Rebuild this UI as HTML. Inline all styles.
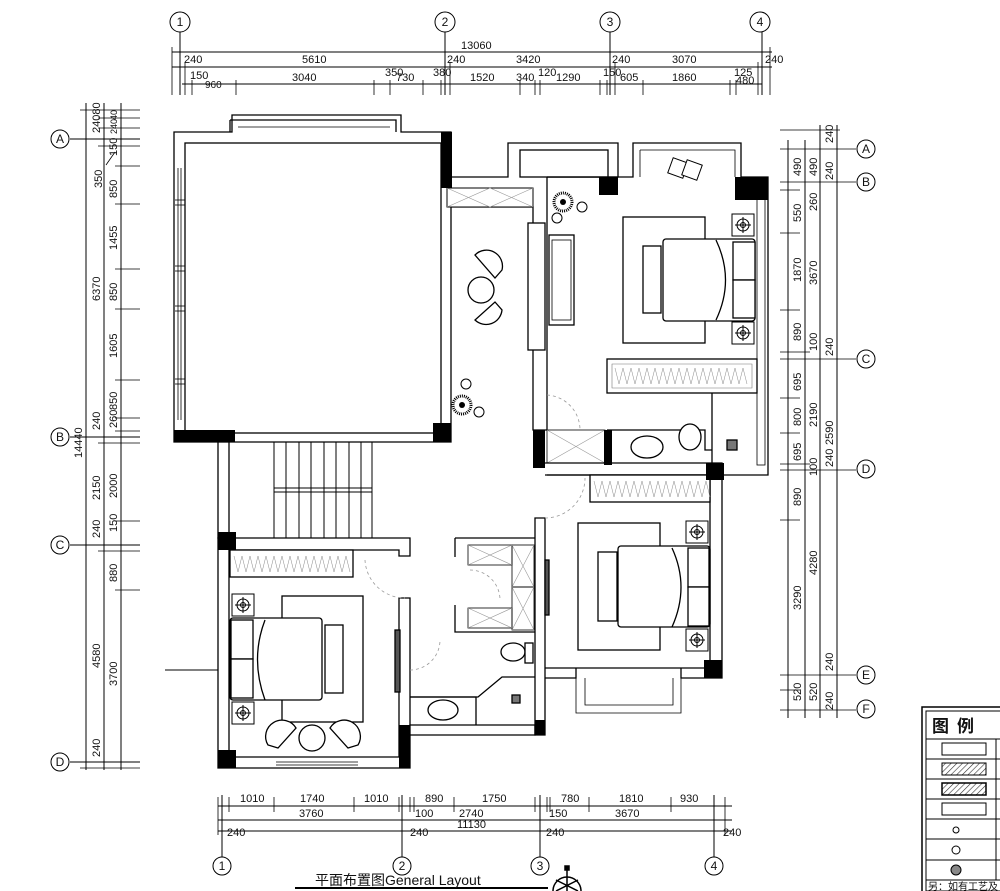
<!DOCTYPE html>
<html><head><meta charset="utf-8"><style>
html,body{margin:0;padding:0;background:#fff;}
svg{display:block;}
text{font-family:"Liberation Sans","Noto Sans CJK SC",sans-serif;fill:#111;}
.d{font-size:11px;}
</style></head><body>
<svg width="1000" height="891" viewBox="0 0 1000 891" xmlns="http://www.w3.org/2000/svg">
<defs>
<pattern id="h" width="4" height="4" patternUnits="userSpaceOnUse" patternTransform="rotate(45)"><line x1="0" y1="0" x2="0" y2="4" stroke="#333" stroke-width="1.2"/></pattern>
<g id="ns"><rect x="-11" y="-11" width="22" height="22" fill="#fff" stroke="#000"/><circle r="6" fill="none" stroke="#000"/><circle r="2.5" fill="none" stroke="#000"/><line x1="-8" y1="0" x2="8" y2="0" stroke="#000"/><line x1="0" y1="-8" x2="0" y2="8" stroke="#000"/></g>
<g id="pl"><circle r="9" fill="none" stroke="#000" stroke-dasharray="1 1" stroke-width="3"/><circle r="3" fill="#000"/></g>
</defs>
<g stroke="#000" stroke-width="1" fill="none">
<!-- TOP DIMENSIONS -->
<line x1="172" y1="52" x2="772" y2="52"/>
<line x1="172" y1="67" x2="772" y2="67"/>
<line x1="182" y1="84" x2="762" y2="84"/>
<line x1="180" y1="32" x2="180" y2="95"/><line x1="445" y1="32" x2="445" y2="95"/><line x1="610" y1="32" x2="610" y2="95"/><line x1="762" y1="32" x2="762" y2="95"/>
<g stroke-width="0.8">
<line x1="172" y1="47" x2="172" y2="95"/><line x1="185" y1="62" x2="185" y2="95"/><line x1="192" y1="80" x2="192" y2="95"/><line x1="236" y1="80" x2="236" y2="95"/><line x1="374" y1="80" x2="374" y2="95"/><line x1="390" y1="80" x2="390" y2="95"/><line x1="423" y1="80" x2="423" y2="95"/><line x1="441" y1="80" x2="441" y2="95"/><line x1="450" y1="62" x2="450" y2="95"/><line x1="520" y1="80" x2="520" y2="95"/><line x1="535" y1="80" x2="535" y2="95"/><line x1="540" y1="80" x2="540" y2="95"/><line x1="600" y1="80" x2="600" y2="95"/><line x1="607" y1="80" x2="607" y2="95"/><line x1="615" y1="62" x2="615" y2="95"/><line x1="643" y1="80" x2="643" y2="95"/><line x1="730" y1="80" x2="730" y2="95"/><line x1="736" y1="80" x2="736" y2="95"/><line x1="758" y1="62" x2="758" y2="95"/><line x1="770" y1="47" x2="770" y2="95"/>
</g>
<circle cx="180" cy="22" r="10"/><circle cx="445" cy="22" r="10"/><circle cx="610" cy="22" r="10"/><circle cx="760" cy="22" r="10"/>
<!-- LEFT DIMENSIONS -->
<line x1="86" y1="103" x2="86" y2="770"/><line x1="104" y1="103" x2="104" y2="770"/><line x1="121" y1="103" x2="121" y2="770"/>
<line x1="70" y1="139" x2="140" y2="139"/><line x1="70" y1="437" x2="140" y2="437"/><line x1="70" y1="545" x2="140" y2="545"/><line x1="70" y1="762" x2="140" y2="762"/>
<g stroke-width="0.8">
<line x1="80" y1="110" x2="140" y2="110"/><line x1="98" y1="118" x2="140" y2="118"/><line x1="98" y1="128" x2="140" y2="128"/><line x1="98" y1="146" x2="140" y2="146"/><line x1="115" y1="166" x2="140" y2="166"/><line x1="115" y1="204" x2="140" y2="204"/><line x1="115" y1="269" x2="140" y2="269"/><line x1="115" y1="309" x2="140" y2="309"/><line x1="115" y1="380" x2="140" y2="380"/><line x1="115" y1="418" x2="140" y2="418"/><line x1="115" y1="431" x2="140" y2="431"/><line x1="98" y1="443" x2="140" y2="443"/><line x1="115" y1="521" x2="140" y2="521"/><line x1="98" y1="551" x2="140" y2="551"/><line x1="115" y1="590" x2="140" y2="590"/><line x1="80" y1="768" x2="140" y2="768"/>
<line x1="106" y1="165" x2="115" y2="152"/>
</g>
<circle cx="60" cy="139" r="9"/><circle cx="60" cy="437" r="9"/><circle cx="60" cy="545" r="9"/><circle cx="60" cy="762" r="9"/>
<!-- RIGHT DIMENSIONS -->
<line x1="788" y1="140" x2="788" y2="718"/><line x1="805" y1="140" x2="805" y2="718"/><line x1="820" y1="125" x2="820" y2="718"/><line x1="837" y1="125" x2="837" y2="718"/>
<g stroke-width="0.8">
<line x1="780" y1="149" x2="856" y2="149"/><line x1="780" y1="182" x2="856" y2="182"/><line x1="780" y1="359" x2="856" y2="359"/><line x1="780" y1="470" x2="856" y2="470"/><line x1="780" y1="675" x2="856" y2="675"/><line x1="780" y1="710" x2="856" y2="710"/>
<line x1="780" y1="190" x2="800" y2="190"/><line x1="780" y1="233" x2="800" y2="233"/><line x1="780" y1="310" x2="800" y2="310"/><line x1="780" y1="352" x2="810" y2="352"/><line x1="780" y1="398" x2="800" y2="398"/><line x1="780" y1="433" x2="800" y2="433"/><line x1="780" y1="464" x2="810" y2="464"/><line x1="780" y1="520" x2="800" y2="520"/><line x1="780" y1="690" x2="800" y2="690"/><line x1="780" y1="130" x2="840" y2="130"/>
</g>
<circle cx="866" cy="149" r="9"/><circle cx="866" cy="182" r="9"/><circle cx="866" cy="359" r="9"/><circle cx="866" cy="469" r="9"/><circle cx="866" cy="675" r="9"/><circle cx="866" cy="709" r="9"/>
<!-- BOTTOM DIMENSIONS -->
<line x1="218" y1="806" x2="732" y2="806"/><line x1="218" y1="820" x2="732" y2="820"/><line x1="218" y1="831" x2="732" y2="831"/>
<line x1="222" y1="795" x2="222" y2="857"/><line x1="402" y1="795" x2="402" y2="857"/><line x1="540" y1="795" x2="540" y2="857"/><line x1="714" y1="795" x2="714" y2="857"/>
<g stroke-width="0.8">
<line x1="229" y1="797" x2="229" y2="812"/><line x1="274" y1="797" x2="274" y2="812"/><line x1="354" y1="797" x2="354" y2="812"/><line x1="399" y1="797" x2="399" y2="812"/><line x1="410" y1="797" x2="410" y2="812"/><line x1="414" y1="797" x2="414" y2="812"/><line x1="454" y1="797" x2="454" y2="812"/><line x1="535" y1="797" x2="535" y2="812"/><line x1="547" y1="797" x2="547" y2="812"/><line x1="550" y1="797" x2="550" y2="812"/><line x1="589" y1="797" x2="589" y2="812"/><line x1="671" y1="797" x2="671" y2="812"/><line x1="714" y1="797" x2="714" y2="812"/><line x1="725" y1="797" x2="725" y2="835"/><line x1="218" y1="797" x2="218" y2="835"/>
</g>
<circle cx="222" cy="866" r="9"/><circle cx="402" cy="866" r="9"/><circle cx="540" cy="866" r="9"/><circle cx="714" cy="866" r="9"/>
<line x1="295" y1="888" x2="548" y2="888" stroke-width="2"/>
<line x1="165" y1="670" x2="218" y2="670"/>
</g>
<!-- dimension text -->
<g class="d">
<text x="461" y="49">13060</text>
<text x="184" y="63">240</text><text x="302" y="63">5610</text><text x="447" y="63">240</text><text x="516" y="63">3420</text><text x="612" y="63">240</text><text x="672" y="63">3070</text><text x="765" y="63">240</text>
<text x="190" y="79">150</text><text x="205" y="88" font-size="10">960</text><text x="292" y="81">3040</text><text x="385" y="76">350</text><text x="396" y="81">730</text><text x="433" y="76">380</text><text x="470" y="81">1520</text><text x="516" y="81">340</text><text x="538" y="76">120</text><text x="556" y="81">1290</text><text x="603" y="76">150</text><text x="620" y="81">605</text><text x="672" y="81">1860</text><text x="734" y="76">125</text><text x="736" y="84">480</text>
<text x="240" y="802">1010</text><text x="300" y="802">1740</text><text x="364" y="802">1010</text><text x="425" y="802">890</text><text x="482" y="802">1750</text><text x="561" y="802">780</text><text x="619" y="802">1810</text><text x="680" y="802">930</text>
<text x="299" y="817">3760</text><text x="415" y="817">100</text><text x="459" y="817">2740</text><text x="549" y="817">150</text><text x="615" y="817">3670</text>
<text x="457" y="828">11130</text><text x="227" y="836">240</text><text x="410" y="836">240</text><text x="546" y="836">240</text><text x="723" y="836">240</text>
</g>
<g class="d">
<text transform="translate(100,301) rotate(-90)">6370</text>
<text transform="translate(100,500) rotate(-90)">2150</text>
<text transform="translate(100,668) rotate(-90)">4580</text>
<text transform="translate(82,458) rotate(-90)">14440</text>
<text transform="translate(100,430) rotate(-90)">240</text><text transform="translate(100,538) rotate(-90)">240</text><text transform="translate(100,757) rotate(-90)">240</text>
<text transform="translate(100,133) rotate(-90)">24080</text>
<text transform="translate(117,120) rotate(-90)" font-size="9">40</text><text transform="translate(117,134) rotate(-90)" font-size="9">240</text>
<text transform="translate(117,156) rotate(-90)">150</text>
<text transform="translate(102,188) rotate(-90)">350</text>
<text transform="translate(117,198) rotate(-90)">850</text>
<text transform="translate(117,250) rotate(-90)">1455</text><text transform="translate(117,301) rotate(-90)">850</text><text transform="translate(117,358) rotate(-90)">1605</text><text transform="translate(117,410) rotate(-90)">850</text><text transform="translate(117,428) rotate(-90)">260</text><text transform="translate(117,498) rotate(-90)">2000</text><text transform="translate(117,532) rotate(-90)">150</text><text transform="translate(117,582) rotate(-90)">880</text><text transform="translate(117,686) rotate(-90)">3700</text>
</g>
<g class="d">
<text transform="translate(801,176) rotate(-90)">490</text><text transform="translate(801,222) rotate(-90)">550</text><text transform="translate(801,282) rotate(-90)">1870</text><text transform="translate(801,341) rotate(-90)">890</text><text transform="translate(801,391) rotate(-90)">695</text><text transform="translate(801,426) rotate(-90)">800</text><text transform="translate(801,461) rotate(-90)">695</text><text transform="translate(801,506) rotate(-90)">890</text><text transform="translate(801,610) rotate(-90)">3290</text><text transform="translate(801,701) rotate(-90)">520</text>
<text transform="translate(817,176) rotate(-90)">490</text><text transform="translate(817,211) rotate(-90)">260</text><text transform="translate(817,285) rotate(-90)">3670</text><text transform="translate(817,351) rotate(-90)">100</text><text transform="translate(817,427) rotate(-90)">2190</text><text transform="translate(817,476) rotate(-90)">100</text><text transform="translate(817,575) rotate(-90)">4280</text><text transform="translate(817,701) rotate(-90)">520</text>
<text transform="translate(833,143) rotate(-90)">240</text><text transform="translate(833,180) rotate(-90)">240</text><text transform="translate(833,356) rotate(-90)">240</text><text transform="translate(833,467) rotate(-90)">240</text><text transform="translate(833,445) rotate(-90)">2590</text><text transform="translate(833,671) rotate(-90)">240</text><text transform="translate(833,710) rotate(-90)">240</text>
</g>
<g font-size="12" font-family="Liberation Serif,serif" text-anchor="middle">
<text x="180" y="26">1</text><text x="445" y="26">2</text><text x="610" y="26">3</text><text x="760" y="26">4</text>
<text x="60" y="143">A</text><text x="60" y="441">B</text><text x="60" y="549">C</text><text x="60" y="766">D</text>
<text x="866" y="153">A</text><text x="866" y="186">B</text><text x="866" y="363">C</text><text x="866" y="473">D</text><text x="866" y="679">E</text><text x="866" y="713">F</text>
<text x="222" y="870">1</text><text x="402" y="870">2</text><text x="540" y="870">3</text><text x="714" y="870">4</text>
</g>
<text x="315" y="885" font-size="14">平面布置图General  Layout</text>
<!-- compass -->
<g stroke="#000" fill="none" stroke-width="1.5"><path d="M553 891 A14 14 0 0 1 581 891"/><line x1="567" y1="869" x2="567" y2="891"/><line x1="556" y1="880" x2="578" y2="891"/><line x1="578" y1="880" x2="556" y2="891"/><rect x="565" y="866" width="4" height="4" fill="#000"/></g>

<!-- FLOOR PLAN -->
<g stroke="#000" stroke-width="1.3" fill="#fff">
<path d="M174 132 H232 V115 H401 V132 H451 V442 H174 Z"/>
<rect x="185" y="143" width="256" height="290"/>
<path d="M230 120 H396 V132 M230 120 V132" fill="none"/>
<path d="M238 127 H390" fill="none" stroke-width="0.8"/>
<g stroke-width="0.8" fill="none"><line x1="178" y1="168" x2="178" y2="420"/><line x1="181" y1="168" x2="181" y2="420"/>
<line x1="175" y1="200" x2="185" y2="200"/><line x1="175" y1="205" x2="185" y2="205"/><line x1="175" y1="266" x2="185" y2="266"/><line x1="175" y1="271" x2="185" y2="271"/><line x1="175" y1="306" x2="185" y2="306"/><line x1="175" y1="311" x2="185" y2="311"/><line x1="175" y1="379" x2="185" y2="379"/><line x1="175" y1="384" x2="185" y2="384"/></g>
<path d="M451 177 H508 V143 H618 V177 H547 V430 H533 V207 H451" fill="none"/>
<rect x="520" y="150" width="88" height="27"/>
<rect x="447" y="188" width="86" height="19" stroke-width="1"/>
<path d="M447 188 L490 207 L533 188 M447 207 L490 188 L533 207" fill="none" stroke="#999" stroke-width="0.6"/>
<path d="M547 177 H633 V143 H741 V177 H768 V475 H547" fill="none"/>
<path d="M640 150 H735 V177 M640 150 V177" fill="none" stroke-width="0.8"/>
<rect x="757" y="190" width="8" height="275" fill="none" stroke-width="0.8"/>
<rect x="623" y="217" width="82" height="126"/>
<rect x="663" y="239" width="92" height="82" rx="3"/>
<rect x="643" y="246" width="18" height="67"/>
<rect x="733" y="242" width="22" height="38"/><rect x="733" y="280" width="22" height="38"/>
<path d="M716 240 Q735 280 716 320" fill="none"/>
<rect x="528" y="223" width="17" height="127"/>
<rect x="549" y="235" width="25" height="90"/><rect x="552" y="240" width="19" height="80" fill="none" stroke-width="0.8"/>
<rect x="607" y="359" width="150" height="34"/>
<path d="M612 364 H752 V388 H612 Z" fill="none" stroke="#777" stroke-width="0.6"/>
<path d="M615 368 l4 16 l4 -16 l4 16 l4 -16 l4 16 l4 -16 l4 16 l4 -16 l4 16 l4 -16 l4 16 l4 -16 l4 16 l4 -16 l4 16 l4 -16 l4 16 l4 -16 l4 16 l4 -16 l4 16 l4 -16 l4 16 l4 -16 l4 16 l4 -16 l4 16 l4 -16 l4 16 l4 -16 l4 16 l4 -16 l4 16" fill="none" stroke="#888" stroke-width="0.5"/>
<path d="M712 393 V463 M607 430 H705 V450 H712" fill="none"/>
<ellipse cx="647" cy="447" rx="16" ry="11"/>
<ellipse cx="690" cy="437" rx="11" ry="13"/>
<rect x="727" y="440" width="10" height="10" fill="#777"/>
<rect x="547" y="430" width="58" height="33" fill="none" stroke-width="0.8"/>
<path d="M547 430 L605 463 M547 463 L605 430" stroke="#999" stroke-width="0.6" fill="none"/>
<rect x="218" y="442" width="11" height="96"/>
<g stroke-width="1" fill="none">
<line x1="274" y1="442" x2="274" y2="538"/><line x1="286" y1="442" x2="286" y2="538"/><line x1="299" y1="442" x2="299" y2="538"/><line x1="311" y1="442" x2="311" y2="538"/><line x1="324" y1="442" x2="324" y2="538"/><line x1="336" y1="442" x2="336" y2="538"/><line x1="349" y1="442" x2="349" y2="538"/><line x1="361" y1="442" x2="361" y2="538"/><line x1="372" y1="442" x2="372" y2="538"/>
<line x1="274" y1="488" x2="372" y2="488"/><line x1="274" y1="492" x2="372" y2="492"/></g>
<path d="M218 538 H410 V556 H399 V550 H229 V757 H399 V598 H410 V768 H218 Z"/>
<rect x="230" y="550" width="123" height="27"/>
<path d="M234 556 l4 16 l4 -16 l4 16 l4 -16 l4 16 l4 -16 l4 16 l4 -16 l4 16 l4 -16 l4 16 l4 -16 l4 16 l4 -16 l4 16 l4 -16 l4 16 l4 -16 l4 16 l4 -16 l4 16 l4 -16 l4 16 l4 -16 l4 16 l4 -16 l4 16 l4 -16 l4 16" fill="none" stroke="#888" stroke-width="0.5"/>
<rect x="282" y="596" width="81" height="126"/>
<rect x="230" y="618" width="92" height="82" rx="3"/>
<rect x="325" y="625" width="18" height="68"/>
<rect x="231" y="620" width="22" height="39"/><rect x="231" y="659" width="22" height="39"/>
<path d="M265 620 Q250 659 265 700" fill="none"/>
<rect x="395" y="630" width="5" height="62" fill="#555"/>
<path d="M276 762 H358 M276 765 H358" fill="none" stroke-width="0.8"/>
<path d="M268 745 A16 16 0 0 1 296 728 L278 748 Z"/>
<path d="M358 745 A16 16 0 0 0 330 728 L348 748 Z"/>
<circle cx="312" cy="738" r="13"/>
<path d="M455 538 H535 M455 538 V557 M455 605 V632 H535" fill="none"/>
<rect x="468" y="545" width="44" height="20" fill="none" stroke-width="0.8"/><rect x="468" y="608" width="44" height="20" fill="none" stroke-width="0.8"/>
<rect x="512" y="545" width="22" height="42" fill="none" stroke-width="0.8"/><rect x="512" y="587" width="22" height="43" fill="none" stroke-width="0.8"/>
<path d="M468 545 L512 565 M468 565 L512 545 M468 608 L512 628 M468 628 L512 608 M512 545 L534 587 M512 587 L534 545 M512 587 L534 630 M512 630 L534 587" stroke="#999" stroke-width="0.6" fill="none"/>
<path d="M410 725 H535 V735 H410 Z"/>
<path d="M410 697 H478 L502 677 H535" fill="none"/>
<path d="M410 697 H476 V725" fill="none"/>
<ellipse cx="443" cy="710" rx="15" ry="10"/>
<ellipse cx="513" cy="652" rx="12" ry="9"/><rect x="525" y="643" width="8" height="20"/>
<rect x="512" y="695" width="8" height="8" fill="#777"/>
<path d="M535 518 H545 V735 H535 Z"/>
<path d="M545 463 H722 V678 H681 V668 M576 668 V678 H545" fill="none"/>
<path d="M545 475 H710 V668 H545" fill="none"/>
<rect x="590" y="475" width="120" height="27"/>
<path d="M594 481 l4 16 l4 -16 l4 16 l4 -16 l4 16 l4 -16 l4 16 l4 -16 l4 16 l4 -16 l4 16 l4 -16 l4 16 l4 -16 l4 16 l4 -16 l4 16 l4 -16 l4 16 l4 -16 l4 16 l4 -16 l4 16 l4 -16 l4 16 l4 -16 l4 16 l4 -16 l4 16" fill="none" stroke="#888" stroke-width="0.5"/>
<rect x="578" y="523" width="82" height="127"/>
<rect x="618" y="546" width="92" height="81" rx="3"/>
<rect x="598" y="552" width="19" height="69"/>
<rect x="688" y="548" width="21" height="39"/><rect x="688" y="587" width="21" height="39"/>
<path d="M672 548 Q690 587 672 627" fill="none"/>
<rect x="545" y="560" width="4" height="55" fill="#555"/>
<path d="M576 678 V713 H681 V678 M585 678 V705 H673 V678" fill="none" stroke-width="0.8"/>
</g>
<use href="#ns" x="743" y="225"/><use href="#ns" x="743" y="333"/>
<use href="#ns" x="243" y="605"/><use href="#ns" x="243" y="713"/>
<use href="#ns" x="697" y="532"/><use href="#ns" x="697" y="640"/>
<g stroke="#000" stroke-width="1.3" fill="#fff">
<path d="M475 255 A16 16 0 0 1 502 270 L495 278 Z"/>
<circle cx="481" cy="290" r="13"/>
<path d="M475 320 A16 16 0 0 0 502 310 L495 302 Z"/>
</g>
<use href="#pl" x="563" y="202"/><use href="#pl" x="462" y="405"/>
<circle cx="582" cy="207" r="5" fill="none" stroke="#000"/><circle cx="557" cy="218" r="5" fill="none" stroke="#000"/>
<circle cx="466" cy="384" r="5" fill="none" stroke="#000"/><circle cx="479" cy="412" r="5" fill="none" stroke="#000"/>
<rect x="670" y="160" width="16" height="16" transform="rotate(20 678 168)" fill="#fff" stroke="#000"/><rect x="684" y="162" width="16" height="16" transform="rotate(20 692 170)" fill="#fff" stroke="#000"/>
<g fill="#000">
<rect x="441" y="132" width="11" height="56"/>
<rect x="174" y="430" width="61" height="12"/>
<rect x="433" y="423" width="18" height="19"/>
<rect x="599" y="177" width="19" height="18"/>
<rect x="735" y="177" width="33" height="23"/>
<rect x="533" y="430" width="12" height="38"/>
<rect x="604" y="430" width="8" height="35"/>
<rect x="706" y="463" width="18" height="17"/>
<rect x="218" y="532" width="18" height="18"/>
<rect x="399" y="725" width="11" height="43"/>
<rect x="218" y="750" width="18" height="18"/>
<rect x="535" y="720" width="10" height="15"/>
<rect x="704" y="660" width="18" height="18"/>
</g>
<g stroke="#999" stroke-dasharray="3 3" fill="none" stroke-width="0.8">
<path d="M547 395 A35 35 0 0 1 580 430"/><path d="M545 518 A40 40 0 0 0 585 478"/><path d="M365 560 A40 40 0 0 0 405 598"/><path d="M470 570 A30 30 0 0 1 500 600"/><path d="M410 670 A30 30 0 0 0 440 640"/>
</g>
<!-- LEGEND -->
<g stroke="#000" fill="none">
<rect x="922" y="707" width="80" height="186" stroke-width="1.5"/>
<rect x="926" y="711" width="80" height="180"/>
<line x1="926" y1="739" x2="1000" y2="739"/><line x1="926" y1="759" x2="1000" y2="759"/><line x1="926" y1="779" x2="1000" y2="779"/><line x1="926" y1="799" x2="1000" y2="799"/><line x1="926" y1="819" x2="1000" y2="819"/><line x1="926" y1="839" x2="1000" y2="839"/><line x1="926" y1="860" x2="1000" y2="860"/><line x1="926" y1="880" x2="1000" y2="880"/>
<line x1="996" y1="739" x2="996" y2="880"/>
<rect x="942" y="743" width="44" height="12"/>
<rect x="942" y="763" width="44" height="12" fill="url(#h)"/>
<rect x="942" y="783" width="44" height="12" fill="url(#h)" stroke-width="1.5"/>
<rect x="942" y="803" width="44" height="12"/>
<circle cx="956" cy="830" r="3"/>
<circle cx="956" cy="850" r="4"/>
<circle cx="956" cy="870" r="5" fill="#888"/>
</g>
<text x="932" y="732" font-size="17" font-weight="bold" letter-spacing="8">图例</text>
<text x="928" y="890" font-size="10">另：如有工艺及</text>
</svg>
</body></html>
